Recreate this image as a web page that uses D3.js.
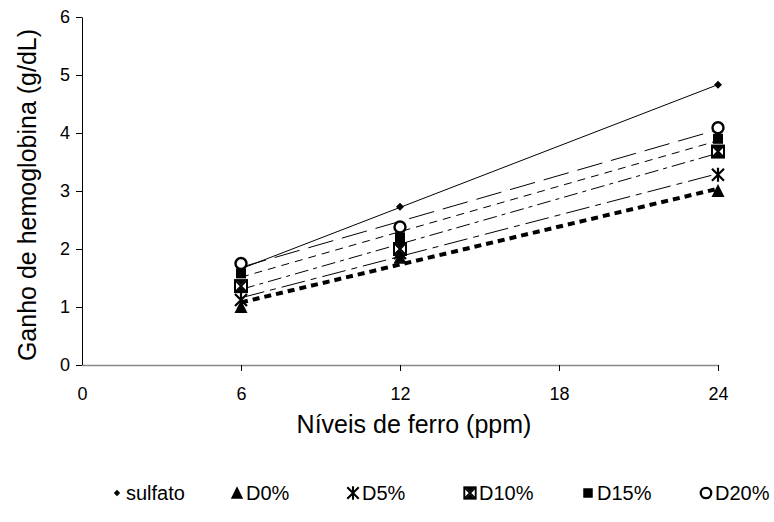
<!DOCTYPE html>
<html>
<head>
<meta charset="utf-8">
<script src="https://cdn.jsdelivr.net/npm/d3@7"></script>
<style>
  body { margin: 0; background: #fff; }
  svg { font-family: "Liberation Sans", Arial, sans-serif; }
</style>
</head>
<body>
<svg id="chart" width="774" height="522"></svg>
<script>
// data
const levels = [6, 12, 24];
const seriesNames = ['sulfato', 'D0%', 'D5%', 'D10%', 'D15%', 'D20%'];
const sulfato = [1.65, 2.73, 4.83];
const d0 = [1.0, 1.85, 3.0];
const d5 = [1.12, 1.93, 3.28];
const d10 = [1.36, 2.0, 3.68];
const d15 = [1.58, 2.2, 3.9];
const d20 = [1.75, 2.38, 4.09];
const xTicks = [0, 6, 12, 18, 24];
const yTicks = [0, 1, 2, 3, 4, 5, 6];

const svg = d3.select('#chart');
const margin = { top: 17, right: 56, bottom: 157, left: 82 };
const width = 774, height = 522;

const x = d3.scaleLinear().domain([0, 24]).range([margin.left, width - margin.right]);
const y = d3.scaleLinear().domain([0, 6]).range([height - margin.bottom, margin.top]);

// line style / marker per series
const styles = {
  'sulfato': { dash: null, w: 1, marker: 'diamond' },
  'D0%': { dash: '7,5', w: 4, marker: 'triangle' },
  'D5%': { dash: '24,6,6,6', w: 1, marker: 'star' },
  'D10%': { dash: '14,5,4,5', w: 1, marker: 'boxx' },
  'D15%': { dash: '8,6', w: 1, marker: 'square' },
  'D20%': { dash: '26,9', w: 1, marker: 'circle' }
};
const values = [sulfato, d0, d5, d10, d15, d20];
const series = seriesNames.map((name, i) => ({
  name,
  points: levels.map((lv, j) => ({ x: lv, y: values[i][j] }))
}));

// linear trendline (least squares)
function trend(points) {
  const mx = d3.mean(points, (d) => d.x);
  const my = d3.mean(points, (d) => d.y);
  const b = d3.sum(points, (d) => (d.x - mx) * (d.y - my)) / d3.sum(points, (d) => (d.x - mx) ** 2);
  const a = my - b * mx;
  const [x0, x1] = d3.extent(points, (d) => d.x);
  return [{ x: x0, y: a + b * x0 }, { x: x1, y: a + b * x1 }];
}

// axes
const yAxis = svg.append('g')
  .attr('transform', `translate(${margin.left},0)`)
  .call(d3.axisLeft(y).tickValues(yTicks).tickFormat(d3.format('d')).tickSize(6).tickSizeOuter(0));
yAxis.select('.domain').attr('stroke', '#000');
yAxis.selectAll('text').attr('font-size', 18).attr('fill', '#000').attr('dx', -3);

const xAxis = svg.append('g')
  .attr('transform', `translate(0,${y(0)})`)
  .call(d3.axisBottom(x).tickValues(xTicks).tickFormat(d3.format('d')).tickSize(6).tickSizeOuter(0));
xAxis.select('.domain').attr('stroke', '#888').attr('stroke-width', 1.5);
xAxis.selectAll('.tick').filter((d) => d === 0).select('line').remove();
xAxis.selectAll('text').attr('font-size', 18).attr('fill', '#000').attr('dy', '1.45em');

// axis titles
svg.append('text')
  .attr('x', (x(0) + x(24)) / 2 + 14).attr('y', 433)
  .attr('text-anchor', 'middle').attr('font-size', 25)
  .text('Níveis de ferro (ppm)');
svg.append('text')
  .attr('transform', `translate(36,${(y(0) + y(6)) / 2 + 4}) rotate(-90)`)
  .attr('text-anchor', 'middle').attr('font-size', 25)
  .text('Ganho de hemoglobina (g/dL)');

// trendlines
const line = d3.line().x((d) => x(d.x)).y((d) => y(d.y));
svg.append('g').selectAll('path')
  .data(series)
  .join('path')
  .attr('d', (s) => line(trend(s.points)))
  .attr('fill', 'none')
  .attr('stroke', '#000')
  .attr('stroke-width', (s) => styles[s.name].w)
  .attr('stroke-dasharray', (s) => styles[s.name].dash);

// marker drawing
function drawMarker(g, type) {
  switch (type) {
    case 'diamond':
      g.append('path').attr('d', 'M0,-4L4,0L0,4L-4,0Z').attr('fill', '#000');
      break;
    case 'triangle':
      g.append('path').attr('d', 'M0,-7L6.5,6L-6.5,6Z').attr('fill', '#000');
      break;
    case 'star':
      g.append('path').attr('d', 'M-6,-6L6,6M6,-6L-6,6M0,-7V7')
        .attr('stroke', '#000').attr('stroke-width', 2.2).attr('fill', 'none');
      break;
    case 'boxx':
      g.append('rect').attr('x', -6).attr('y', -6).attr('width', 12).attr('height', 12)
        .attr('fill', '#fff').attr('stroke', '#000').attr('stroke-width', 2);
      g.append('path').attr('d', 'M-6,-6L6,6M6,-6L-6,6')
        .attr('stroke', '#000').attr('stroke-width', 2).attr('fill', 'none');
      g.append('path').attr('d', 'M-5,-6L0,-1L5,-6Z').attr('fill', '#000');
      g.append('path').attr('d', 'M-5,6L0,1L5,6Z').attr('fill', '#000');
      break;
    case 'square':
      g.append('rect').attr('x', -5).attr('y', -5).attr('width', 10).attr('height', 10).attr('fill', '#000');
      break;
    case 'circle':
      g.append('circle').attr('r', 5.5).attr('fill', '#fff').attr('stroke', '#000').attr('stroke-width', 2.4);
      break;
  }
}

// markers: upper series drawn last so they sit on top like the reference
const markerOrder = ['D0%', 'D5%', 'D10%', 'D15%', 'sulfato', 'D20%'];
markerOrder.forEach((name) => {
  const s = series.find((d) => d.name === name);
  s.points.forEach((p) => {
    const g = svg.append('g').attr('transform', `translate(${x(p.x)},${y(p.y)})`);
    drawMarker(g, styles[name].marker);
  });
});

// legend
const legendX = [117, 237, 353, 470, 588, 706];
const legend = svg.append('g');
seriesNames.forEach((name, i) => {
  const g = legend.append('g').attr('transform', `translate(${legendX[i]},493)`);
  const m = g.append('g').attr('transform', name === 'sulfato' ? 'scale(0.8)' : 'scale(0.95)');
  drawMarker(m, styles[name].marker);
  g.append('text').attr('x', 9).attr('y', 7).attr('font-size', 20).text(name);
});
</script>
</body>
</html>
